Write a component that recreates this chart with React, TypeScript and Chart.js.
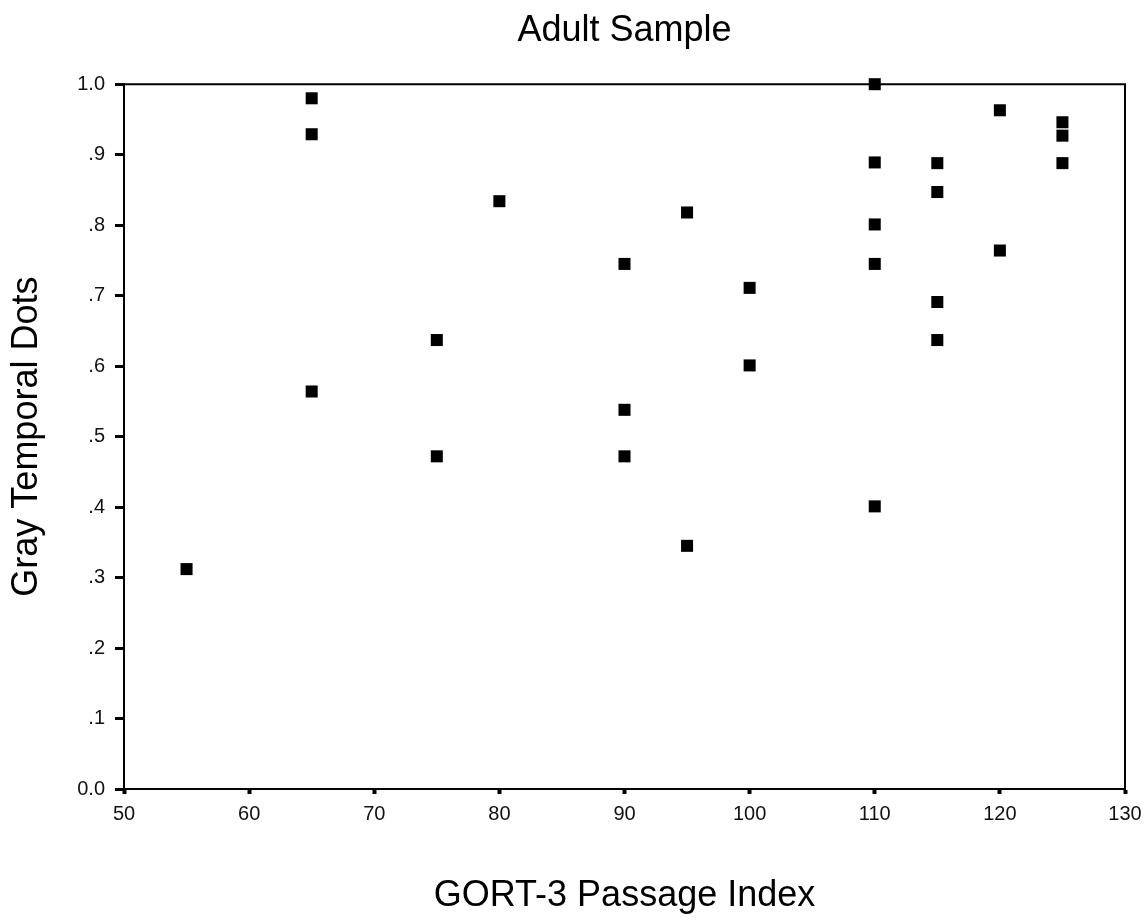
import React, { useEffect, useRef } from "react";
import { Chart, registerables } from "chart.js";

Chart.register(...registerables);

const CHART_TITLE = "Adult Sample";
const X_TITLE = "GORT-3 Passage Index";
const Y_TITLE = "Gray Temporal Dots";

const xValues = [
  55,
  65, 65, 65,
  75, 75,
  80,
  90, 90, 90,
  95, 95,
  100, 100,
  110, 110, 110, 110, 110,
  115, 115, 115, 115,
  120, 120,
  125, 125, 125,
];
const yValues = [
  0.312,
  0.98, 0.929, 0.564,
  0.637, 0.472,
  0.834,
  0.745, 0.538, 0.472,
  0.818, 0.345,
  0.711, 0.601,
  1.0, 0.889, 0.801, 0.745, 0.401,
  0.888, 0.847, 0.691, 0.637,
  0.963, 0.764,
  0.946, 0.927, 0.888,
];

const yTickLabels = ["0.0", ".1", ".2", ".3", ".4", ".5", ".6", ".7", ".8", ".9", "1.0"];

const FONT = "'Liberation Sans', Arial, Helvetica, sans-serif";

const framePlugin = {
  id: "frame",
  beforeDatasetsDraw(chart: any) {
    const { ctx, chartArea } = chart;
    ctx.save();
    ctx.strokeStyle = "#000";
    ctx.lineWidth = 2;
    ctx.beginPath();
    ctx.moveTo(chartArea.left, chartArea.top);
    ctx.lineTo(chartArea.right, chartArea.top);
    ctx.lineTo(chartArea.right, chartArea.bottom);
    ctx.stroke();
    ctx.restore();
  },
};

export default function App() {
  const canvasRef = useRef<HTMLCanvasElement | null>(null);

  useEffect(() => {
    document.body.style.margin = "0";
    if (!canvasRef.current) return;
    const points = xValues.map((x, i) => ({ x, y: yValues[i] }));
    const chart = new Chart(canvasRef.current, {
      type: "scatter",
      data: {
        datasets: [
          {
            label: Y_TITLE,
            data: points,
            pointStyle: "rect",
            pointRadius: 8.5,
            pointHoverRadius: 8.5,
            borderWidth: 0,
            backgroundColor: "#000",
            borderColor: "#000",
            clip: false as any,
          },
        ],
      },
      options: {
        animation: false,
        responsive: false,
        events: [],
        layout: { padding: { left: 0, right: 20, top: 0, bottom: 0 } },
        plugins: {
          legend: { display: false },
          tooltip: { enabled: false },
          title: {
            display: true,
            text: CHART_TITLE,
            fullSize: false,
            color: "#000",
            font: { family: FONT, size: 36, weight: "normal" },
            padding: { top: 9, bottom: 32 },
          },
        },
        scales: {
          x: {
            type: "linear",
            min: 50,
            max: 130,
            afterFit: (scale: any) => {
              scale.height = 131;
              scale.paddingRight = 0;
              scale.paddingLeft = 0;
            },
            ticks: {
              stepSize: 10,
              color: "#111",
              font: { family: FONT, size: 20 },
              padding: 8,
              maxRotation: 0,
            },
            grid: {
              drawOnChartArea: false,
              drawTicks: true,
              tickLength: 5,
              tickWidth: 4,
              color: "#000",
            },
            border: { display: true, color: "#000", width: 2 },
            title: {
              display: true,
              text: X_TITLE,
              color: "#000",
              font: { family: FONT, size: 36, weight: "normal" },
              padding: { top: 0, bottom: 2 },
            },
          },
          y: {
            type: "linear",
            min: 0,
            max: 1,
            afterFit: (scale: any) => {
              scale.width = 124;
            },
            ticks: {
              stepSize: 0.1,
              color: "#111",
              font: { family: FONT, size: 20 },
              padding: 10,
              callback: (v: any) => yTickLabels[Math.round(Number(v) * 10)],
            },
            grid: {
              drawOnChartArea: false,
              drawTicks: true,
              tickLength: 9,
              tickWidth: 3,
              color: "#000",
            },
            border: { display: true, color: "#000", width: 2 },
            title: {
              display: true,
              text: Y_TITLE,
              color: "#000",
              font: { family: FONT, size: 36, weight: "normal" },
              padding: { top: 5, bottom: 0 },
            },
          },
        },
      },
      plugins: [framePlugin],
    });
    return () => chart.destroy();
  }, []);

  return (
    <div style={{ width: 1145, height: 920, background: "#fff" }}>
      <canvas ref={canvasRef} width={1145} height={920} />
    </div>
  );
}
